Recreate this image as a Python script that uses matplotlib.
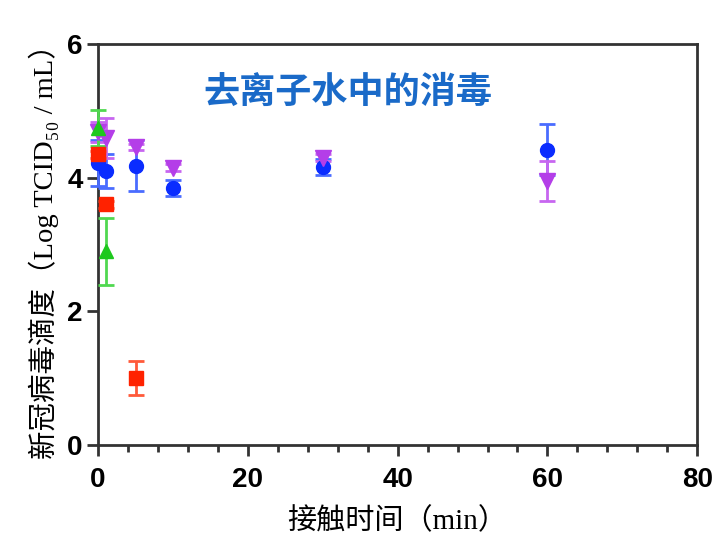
import numpy as np
import matplotlib.pyplot as plt
from matplotlib.ticker import MultipleLocator

# data
blue_t = [0, 1, 5, 10, 30, 60]
blue_y = [4.22, 4.1, 4.18, 3.85, 4.16, 4.42]
blue_e = [0.35, 0.25, 0.38, 0.12, 0.12, 0.38]

purple_t = [0, 1, 5, 10, 30, 60]
purple_y = [4.68, 4.6, 4.46, 4.15, 4.3, 3.95]
purple_e = [0.15, 0.3, 0.05, 0.05, 0.05, 0.3]

green_t = [0, 1]
green_y = [4.75, 2.9]
green_e = [0.27, 0.5]

red_t = [0, 1, 5]
red_y = [4.35, 3.6, 1.0]
red_e = [0.05, 0.05, 0.25]

fonts = ['Liberation Serif', 'Noto Sans CJK SC', 'DejaVu Sans']

fig = plt.figure(figsize=(7.21, 5.59), dpi=100)
ax = fig.add_axes([0.136, 0.204, 0.831, 0.717])

series = [
    (blue_t, blue_y, blue_e, 'o', '#0a2cff', '#4a6cff', 10),
    (purple_t, purple_y, purple_e, 'v', '#b43ee8', '#c766f0', 11),
    (green_t, green_y, green_e, '^', '#1ec81e', '#50d850', 10),
    (red_t, red_y, red_e, 's', '#ff2200', '#ff5a3a', 10),
]
for t, y, e, m, c, ec, ms in series:
    ax.errorbar(t, y, yerr=e, fmt=m, color=c, ecolor=ec, ms=ms,
                elinewidth=2, capsize=6, capthick=2, clip_on=False, zorder=3)

ax.set_xlim(0, 80)
ax.set_ylim(0, 6)
ax.set_xticks([0, 20, 40, 60, 80])
ax.set_yticks([0, 2, 4, 6])
ax.xaxis.set_minor_locator(MultipleLocator(4))
for s in ax.spines.values():
    s.set_linewidth(2)
    s.set_color('#333333')
ax.tick_params(which='major', length=8, width=2, color='#333333')
ax.tick_params(axis='x', pad=8)
ax.tick_params(axis='y', pad=3)
ax.tick_params(which='minor', length=5, width=2, color='#333333')
for lab in ax.get_xticklabels() + ax.get_yticklabels():
    lab.set_fontfamily('Liberation Sans')
    lab.set_fontweight('bold')
    lab.set_fontsize(20)

ax.set_xlabel('接触时间（min）', fontsize=21, family=fonts, labelpad=10)
ax.set_ylabel('新冠病毒滴度（Log TCID\u2085\u2080 / mL）', fontsize=20.5,
              family=fonts, labelpad=6)

ax.text(0.417, 0.88, '去离子水中的消毒', transform=ax.transAxes, ha='center',
        va='center', fontsize=26, fontweight='bold', color='#1a6ac8',
        family=['Noto Sans CJK SC', 'DejaVu Sans'])

fig.savefig('out.png', dpi=100)
